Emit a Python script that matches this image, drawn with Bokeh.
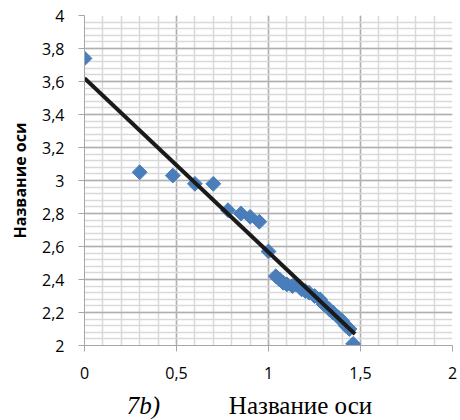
import numpy as np
from bokeh.plotting import figure
from bokeh.layouts import column
from bokeh.models import FixedTicker, Range1d
from bokeh.core.properties import value
from bokeh.embed import file_html
from bokeh.resources import INLINE

# data
x_vals = [0.00, 0.30, 0.48, 0.60, 0.70, 0.78, 0.85, 0.90, 0.95, 1.00,
          1.04, 1.06, 1.08, 1.10, 1.13, 1.15, 1.18, 1.20, 1.22, 1.25,
          1.28, 1.30, 1.33, 1.35, 1.38, 1.40, 1.42, 1.44, 1.46]
y_vals = [3.74, 3.05, 3.03, 2.98, 2.98, 2.82, 2.80, 2.78, 2.75, 2.57,
          2.42, 2.40, 2.38, 2.37, 2.36, 2.37, 2.34, 2.33, 2.32, 2.30,
          2.28, 2.25, 2.22, 2.20, 2.17, 2.15, 2.12, 2.10, 2.01]
trend_x = [0.0, 1.47]
trend_y = [3.62, 2.07]

x_ticks = [0, 0.5, 1, 1.5, 2]
x_labels = ["0", "0,5", "1", "1,5", "2"]
y_ticks = [2, 2.2, 2.4, 2.6, 2.8, 3, 3.2, 3.4, 3.6, 3.8, 4]
y_labels = ["2", "2,2", "2,4", "2,6", "2,8", "3", "3,2", "3,4", "3,6", "3,8", "4"]
axis_title = "Название оси"
panel_tag = "7b)"

p = figure(width=460, height=390, output_backend="svg", toolbar_location=None,
           x_range=Range1d(0, 2), y_range=Range1d(2, 4))
p.min_border_left = 84
p.min_border_right = 8
p.min_border_top = 15
p.min_border_bottom = 45
p.outline_line_color = None
p.background_fill_color = "white"
p.border_fill_color = "white"

x_minor = [round(v, 2) for v in np.arange(0, 2.0001, 0.1)]
y_minor = [round(v, 2) for v in np.arange(2, 4.0001, 0.04)]
p.xaxis.ticker = FixedTicker(ticks=x_ticks, minor_ticks=x_minor)
p.yaxis.ticker = FixedTicker(ticks=y_ticks, minor_ticks=y_minor)
p.xaxis.major_label_overrides = {t: l for t, l in zip(x_ticks, x_labels)}
p.yaxis.major_label_overrides = {t: l for t, l in zip(y_ticks, y_labels)}

for ax in (p.xaxis, p.yaxis):
    ax.axis_line_color = "#a6a6a6"
    ax.major_tick_line_color = "#a6a6a6"
    ax.major_tick_out = 6
    ax.major_tick_in = 0
    ax.minor_tick_line_color = None
    ax.major_label_text_font = "Open Sans"
    ax.major_label_text_font_size = "16px"
    ax.major_label_text_color = "black"
p.xaxis.major_label_standoff = 15
p.yaxis.major_label_standoff = 14

p.yaxis.axis_label = axis_title
p.yaxis.axis_label_text_font = "Open Sans"
p.yaxis.axis_label_text_font_style = "bold"
p.yaxis.axis_label_text_font_size = "16px"
p.yaxis.axis_label_text_color = "black"
p.yaxis.axis_label_standoff = 8

p.xgrid.grid_line_color = "#b0b0b0"
p.ygrid.grid_line_color = "#b0b0b0"
p.xgrid.minor_grid_line_color = "#d9d9d9"
p.ygrid.minor_grid_line_color = "#d9d9d9"
p.xgrid.grid_line_width = 1.5
p.ygrid.grid_line_width = 1.5
p.xgrid.minor_grid_line_width = 1.5
p.ygrid.minor_grid_line_width = 1.5

p.scatter(x_vals, y_vals, marker="square", angle=np.pi / 4, size=10.5,
          fill_color="#4a7ebb", line_color="#4a7ebb")
p.line(trend_x, trend_y, line_color="#1a1a1a", line_width=4)

# caption row under the chart, sharing the chart's x scale
cap = figure(width=460, height=30, output_backend="svg", toolbar_location=None,
             x_range=p.x_range, y_range=Range1d(0, 1),
             x_axis_location=None, y_axis_location=None)
cap.min_border_left = 84
cap.min_border_right = 8
cap.min_border_top = 0
cap.min_border_bottom = 0
cap.outline_line_color = None
cap.xgrid.visible = False
cap.ygrid.visible = False
cap.text(x=[0.32], y=[0.5], text=[panel_tag], text_font=value("Liberation Serif"),
         text_font_style="italic", text_font_size="25px", text_color="black",
         text_align="center", text_baseline="middle")
cap.text(x=[1.174], y=[0.5], text=[axis_title], text_font=value("Liberation Serif"),
         text_font_size="25px", text_color="black",
         text_align="center", text_baseline="middle")

layout = column(p, cap, spacing=0)
open("out.html", "w").write(file_html(layout, INLINE))
